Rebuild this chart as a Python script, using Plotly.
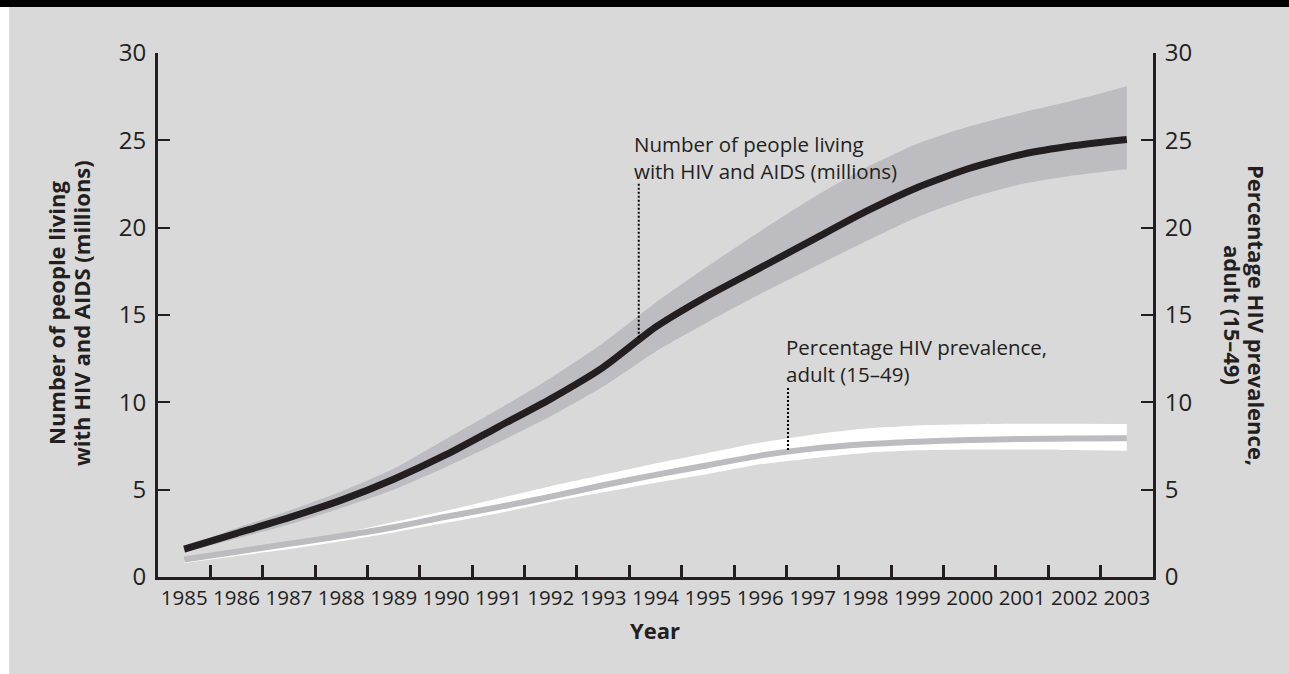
import plotly.graph_objects as go

years = list(range(1985, 2004))
people = [1.6, 2.5, 3.4, 4.4, 5.6, 7.0, 8.6, 10.2, 12.0, 14.3, 16.1, 17.7, 19.3, 20.9, 22.3, 23.4, 24.2, 24.7, 25.05]
people_hi = [1.7, 2.8, 3.8, 4.9, 6.2, 7.9, 9.6, 11.4, 13.4, 15.7, 17.8, 19.8, 21.7, 23.4, 24.8, 25.8, 26.6, 27.3, 28.1]
people_lo = [1.4, 2.2, 3.0, 3.95, 5.0, 6.3, 7.7, 9.2, 10.9, 12.9, 14.6, 16.2, 17.7, 19.2, 20.6, 21.7, 22.5, 23.0, 23.35]
prev = [1.0, 1.45, 1.9, 2.35, 2.85, 3.45, 4.0, 4.6, 5.25, 5.85, 6.4, 6.95, 7.35, 7.6, 7.75, 7.85, 7.9, 7.93, 7.95]
prev_hi = [1.0, 1.5, 2.0, 2.5, 3.15, 3.8, 4.5, 5.2, 5.85, 6.5, 7.1, 7.7, 8.15, 8.5, 8.68, 8.75, 8.78, 8.77, 8.76]
prev_lo = [0.8, 1.2, 1.6, 2.05, 2.55, 3.1, 3.65, 4.3, 4.85, 5.4, 5.9, 6.45, 6.8, 7.1, 7.25, 7.3, 7.3, 7.27, 7.23]

y_ticks = [0, 5, 10, 15, 20, 25, 30]
x_minor = [y + 0.5 for y in years[:-1]]

FONT = "Open Sans"
INK = "#231f20"
BG = "#d9d9d9"
BAND = "#bdbdc1"

fig = go.Figure()
sp = dict(shape="spline", smoothing=0.6)

fig.add_trace(go.Scatter(x=years, y=people_lo, mode="lines", line=dict(width=0, color=BAND, **sp),
                         showlegend=False, hoverinfo="skip"))
fig.add_trace(go.Scatter(x=years, y=people_hi, mode="lines", line=dict(width=0, color=BAND, **sp),
                         fill="tonexty", fillcolor=BAND, showlegend=False, hoverinfo="skip"))
fig.add_trace(go.Scatter(x=years, y=prev_lo, mode="lines", line=dict(width=0, color="white", **sp),
                         showlegend=False, hoverinfo="skip", yaxis="y2"))
fig.add_trace(go.Scatter(x=years, y=prev_hi, mode="lines", line=dict(width=0, color="white", **sp),
                         fill="tonexty", fillcolor="white", showlegend=False, hoverinfo="skip", yaxis="y2"))
fig.add_trace(go.Scatter(x=years, y=prev, mode="lines", line=dict(width=6, color="#bcbcc0", **sp),
                         showlegend=False, yaxis="y2", name="Percentage HIV prevalence, adult (15–49)"))
fig.add_trace(go.Scatter(x=years, y=people, mode="lines", line=dict(width=7, color=INK, **sp),
                         showlegend=False, name="Number of people living with HIV and AIDS (millions)"))

axis_common = dict(range=[0, 30], tickvals=y_ticks, ticks="inside", ticklen=12, tickwidth=2,
                   tickcolor=INK, showline=True, linewidth=3, linecolor=INK, showgrid=False,
                   zeroline=False, tickfont=dict(family=FONT, size=24, color=INK),
                   ticklabelstandoff=4)

fig.update_layout(
    width=1289, height=674,
    margin=dict(l=158, r=136, t=53, b=97),
    paper_bgcolor=BG, plot_bgcolor=BG,
    xaxis=dict(range=[1984.5, 2003.5], tickvals=years, ticktext=[str(y) for y in years],
               ticks="", showline=True, linewidth=3, linecolor=INK, showgrid=False, zeroline=False,
               tickfont=dict(family=FONT, size=20.5, color=INK),
               minor=dict(tickvals=x_minor, ticks="inside", ticklen=12, tickwidth=3, tickcolor=INK)),
    yaxis=dict(**axis_common),
    yaxis2=dict(overlaying="y", side="right", **axis_common),
    showlegend=False,
)

# frame decorations: black top band and white left strip
fig.add_shape(type="rect", xref="paper", yref="paper", x0=-0.2, x1=1.2, y0=1.0878, y1=1.2,
              fillcolor="black", line=dict(width=0), layer="below")
fig.add_shape(type="rect", xref="paper", yref="paper", x0=-0.2, x1=-0.1497, y0=-0.3, y1=1.0878,
              fillcolor="white", line=dict(width=0), layer="below")

# leader lines
fig.add_shape(type="line", xref="x", yref="y", x0=1993.68, x1=1993.68, y0=13.7, y1=22.6,
              line=dict(color="black", width=2, dash="2px,2px"))
fig.add_shape(type="line", xref="x", yref="y", x0=1996.53, x1=1996.53, y0=7.27, y1=10.9,
              line=dict(color="black", width=2, dash="2px,2px"))

ann_font = dict(family=FONT, size=20.5, color=INK)
fig.add_annotation(x=1993.55, y=24.0, xref="x", yref="y", xanchor="left", yanchor="middle",
                   align="left", showarrow=False, font=ann_font,
                   text="Number of people living<br>with HIV and AIDS (millions)")
fig.add_annotation(x=1996.46, y=12.42, xref="x", yref="y", xanchor="left", yanchor="middle",
                   align="left", showarrow=False, font=ann_font,
                   text="Percentage HIV prevalence,<br>adult (15–49)")

title_font = dict(family=FONT, size=22, color=INK)
# left axis title (two lines, rotated)
for txt, px in [("Number of people living", 56), ("with HIV and AIDS (millions)", 81)]:
    fig.add_annotation(x=(px - 158) / 995, y=(577 - 313) / 524, xref="paper", yref="paper",
                       textangle=-90, showarrow=False, xanchor="center", yanchor="middle",
                       font=title_font, text="<b>" + txt + "</b>")
# right axis title (two lines, rotated clockwise)
for txt, px in [("Percentage HIV prevalence,", 1257), ("adult (15–49)", 1233)]:
    fig.add_annotation(x=(px - 158) / 995, y=(577 - 315) / 524, xref="paper", yref="paper",
                       textangle=90, showarrow=False, xanchor="center", yanchor="middle",
                       font=title_font, text="<b>" + txt + "</b>")
fig.add_annotation(x=(655 - 158) / 995, y=(577 - 630) / 524, xref="paper", yref="paper",
                   showarrow=False, xanchor="center", yanchor="middle",
                   font=dict(family=FONT, size=22, color=INK), text="<b>Year</b>")

fig.write_html("out.html", config={"displayModeBar": False},
               post_script="document.body.style.margin='0px';document.body.style.overflow='hidden';")
